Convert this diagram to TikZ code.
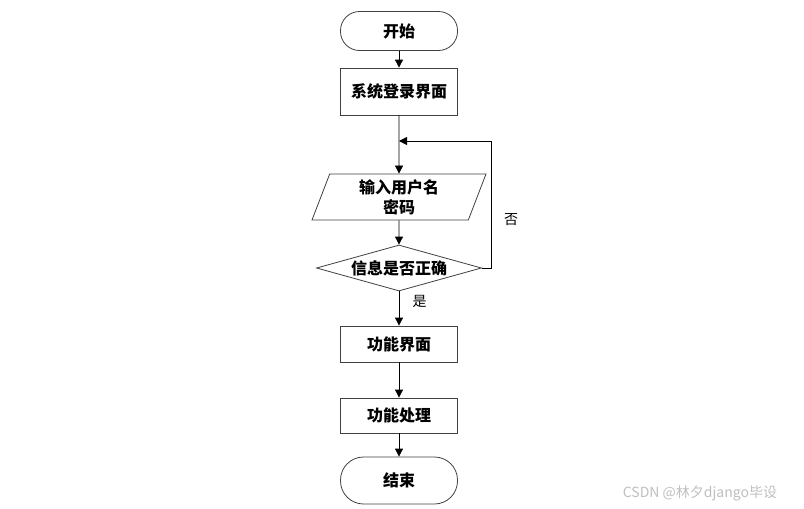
\documentclass[tikz,border=0pt]{standalone}
\usepackage{fontspec}
\setmainfont{Noto Sans CJK SC}
\usepackage{tikz}
\usetikzlibrary{arrows.meta,shapes.geometric}

\begin{document}
\begin{tikzpicture}[x=1pt, y=-1pt,
      term/.style={draw=black!75, thick, minimum width=117pt, inner sep=0pt, font=\bfseries\fontsize{16}{18}\selectfont},
      proc/.style={draw=black!75, thick, minimum width=117pt, inner sep=0pt, font=\bfseries\fontsize{16}{18}\selectfont},
      io/.style={draw=black!75, thick, trapezium, trapezium left angle=63.4, trapezium right angle=116.6,
        trapezium stretches body, minimum width=174pt, minimum height=46pt, inner sep=0pt,
        align=center, font=\bfseries\fontsize{16}{20}\selectfont},
      cond/.style={draw=black!75, thick, diamond, aspect=3.6, minimum width=165pt, minimum height=46pt,
        inner sep=0pt, font=\bfseries\fontsize{16}{18}\selectfont},
      lbl/.style={font=\fontsize{14}{16}\selectfont},
      >={Triangle[length=8pt,width=8pt]}]
    \useasboundingbox (0,0) rectangle (804,509);
    \node[term, minimum height=39pt, rounded corners=19pt] (start) at (399,31)  {开始};
    \node[proc, minimum height=47pt] (login) at (399,91.5) {系统登录界面};
    \node[io] (input) at (399,197) {输入用户名\\密码};
    \node[cond] (check) at (399,268) {信息是否正确};
    \node[proc, minimum height=36pt] (func) at (399,344) {功能界面};
    \node[proc, minimum height=35pt] (work) at (399,415.5) {功能处理};
    \node[term, minimum height=47pt, rounded corners=23pt] (stop) at (399,480.5) {结束};
    \coordinate (join) at (399,141);
    \coordinate (back) at (491,141);
    \draw[thick, ->] (start)--(login);
    \draw[thick, ->] (login)--(input);
    \draw[thick, ->] (input)--(check);
    \draw[thick, ->] (check)--(func)
      node[pos=0.3, right=10pt, lbl]{是};
    \draw[thick, ->] (func)--(work);
    \draw[thick, ->] (work)--(stop);
    \draw[thick, ->] (check.east) -| (back) -- (join);
    \node[lbl] (no) at (511,220) {否};
    \node[font=\fontsize{14}{16}\selectfont, text=black!25] (mark) at (700,493) {CSDN @林夕django毕设};
  \end{tikzpicture}
\end{document}
